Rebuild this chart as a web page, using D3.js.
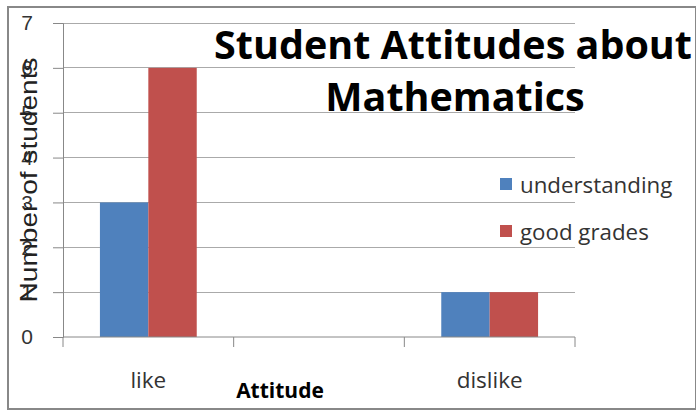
<!DOCTYPE html>
<meta charset="utf-8">
<style>
body{margin:0;background:#fff;}
</style>
<body>
<script src="https://d3js.org/d3.v7.min.js"></script>
<script>
var categories=["like","","dislike"];
var seriesNames=["understanding","good grades"];
var understanding=[3,0,1];
var goodGrades=[6,0,1];
var yTicks=[0,1,2,3,4,5,6,7];
var colors=["#4F81BD","#C0504D"];

var W=696,H=410;
var sans="'Open Sans',Lato,sans-serif";
var arial="'Liberation Sans',Arial,sans-serif";
var svg=d3.select("body").append("svg").attr("width",W).attr("height",H);

// outer frame
svg.append("rect").attr("x",8).attr("y",7).attr("width",W-8).attr("height",H-8)
	.attr("fill","#fff").attr("stroke","#888").attr("stroke-width",2);

var pl=63,pr=575,pt=23,pb=337;
var x=d3.scaleBand().domain(categories.map((d,i)=>i)).range([pl,pr]);
var y=d3.scaleLinear().domain([0,7]).range([pb,pt]);
var xs=d3.scaleBand().domain(seriesNames).range([0,x.bandwidth()]).paddingInner(0).paddingOuter(0.763);

// gridlines
svg.append("g").selectAll("line").data(yTicks.filter(d=>d>0)).join("line")
	.attr("x1",pl).attr("x2",pr).attr("y1",d=>y(d)).attr("y2",d=>y(d))
	.attr("stroke","#aaa").attr("stroke-width",1).attr("shape-rendering","crispEdges");

// bars
var rows=categories.map((c,i)=>({i:i,vals:[understanding[i],goodGrades[i]]}));
var grp=svg.append("g").selectAll("g").data(rows).join("g")
	.attr("transform",d=>"translate("+x(d.i)+",0)");
grp.selectAll("rect").data(d=>d.vals.map((v,k)=>({k:k,v:v}))).join("rect")
	.attr("x",d=>xs(seriesNames[d.k])).attr("width",xs.bandwidth())
	.attr("y",d=>y(d.v)).attr("height",d=>pb-y(d.v))
	.attr("fill",d=>colors[d.k]);

// y axis
var ya=svg.append("g").attr("transform","translate("+pl+",0)")
	.call(d3.axisLeft(y).tickValues(yTicks).tickSize(10).tickPadding(20).tickFormat(d3.format("d")));
ya.select(".domain").attr("stroke","#888");
ya.selectAll(".tick line").attr("stroke","#888");
ya.selectAll("text").attr("font-family",arial).attr("font-size",21).attr("fill","#333");

// x axis
var xa=svg.append("g").attr("transform","translate(0,"+pb+")");
xa.append("line").attr("x1",pl).attr("x2",pr).attr("stroke","#888");
xa.selectAll(".tk").data(d3.range(categories.length+1)).join("line")
	.attr("x1",d=>pl+d*x.step()).attr("x2",d=>pl+d*x.step())
	.attr("y1",0).attr("y2",10).attr("stroke","#888");
xa.selectAll(".lab").data(categories).join("text")
	.attr("x",(d,i)=>x(i)+x.bandwidth()/2).attr("y",51)
	.attr("text-anchor","middle").attr("font-family",sans).attr("font-size",22.5).attr("fill","#333").text(d=>d);

// axis titles
svg.append("text").attr("x",280).attr("y",398).attr("text-anchor","middle").attr("font-family",sans)
	.attr("font-size",21).attr("font-weight","bold").attr("fill","#000").text("Attitude");
svg.append("text").attr("transform","translate(37,180) rotate(-90)").attr("text-anchor","middle")
	.attr("font-family",arial).attr("font-size",24).attr("fill","#222")
	.attr("textLength",245).attr("lengthAdjust","spacingAndGlyphs")
	.text("Number of students");

// title
var title=svg.append("text").attr("text-anchor","middle").attr("font-family",sans).attr("font-size",39.5)
	.attr("font-weight","bold").attr("fill","#000");
title.append("tspan").attr("x",453).attr("y",59).text("Student Attitudes about");
title.append("tspan").attr("x",455).attr("y",111).text("Mathematics");

// legend
var lg=svg.append("g").selectAll("g").data(seriesNames).join("g")
	.attr("transform",(d,i)=>"translate(500,"+(178+i*47)+")");
lg.append("rect").attr("width",12).attr("height",12).attr("fill",(d,i)=>colors[i]);
lg.append("text").attr("x",20).attr("y",15).attr("font-family",sans).attr("font-size",22.3).attr("fill","#333").text(d=>d);
</script>
</body>
